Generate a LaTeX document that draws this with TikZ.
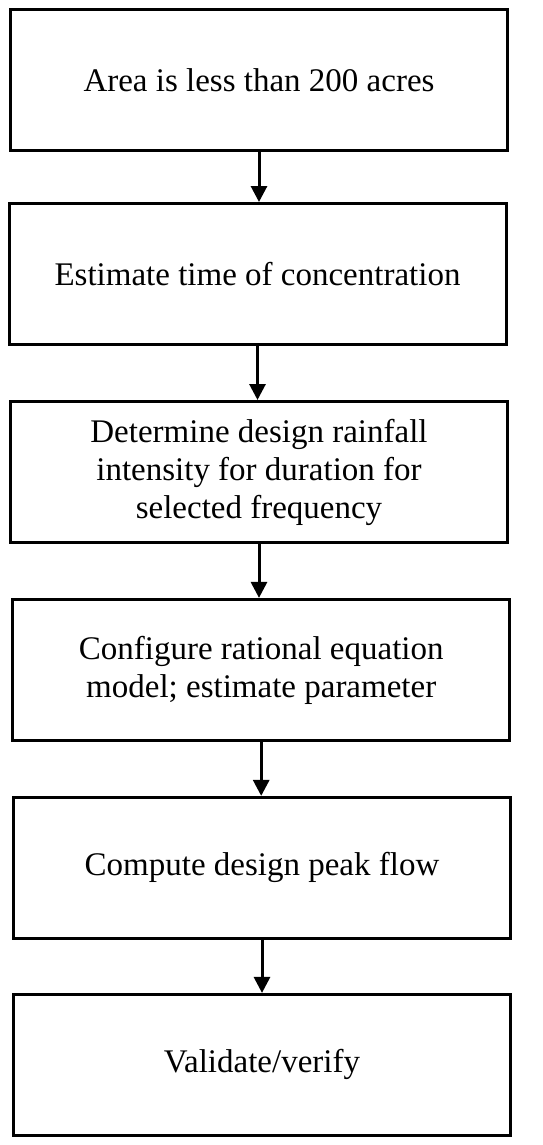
\documentclass[tikz,border=0pt]{standalone}
\usepackage{fontspec}
\setmainfont{Liberation Serif}
\usetikzlibrary{arrows.meta}
\usetikzlibrary{positioning}
\tikzset{
    % Filled triangular head, as in the flow chart
    >={Triangle[length=16pt, width=16pt]},
%
    % One step of the procedure
    step box/.style={
        draw, line width=3pt, align=center, inner sep=0pt,
        minimum width=497pt, minimum height=141pt,
        font=\fontsize{33}{38}\selectfont},
%
    % The connector between two steps
    flow/.style={->, line width=3pt}}

\begin{document}
\begin{tikzpicture}[x=1pt, y=1pt]

\useasboundingbox (0,0) rectangle (542,-1145);

\node [step box] (area) at (259,-80.3) {Area is less than 200 acres};
\node [step box] (tc) at (257.5,-274) {Estimate time of concentration};
\node [step box] (rain) at (259,-472)
    {Determine design rainfall\\intensity for duration for\\selected frequency};
\node [step box] (model) at (261.2,-669.9)
    {Configure rational equation\\model; estimate parameter};
\node [step box] (peak) at (262,-867.9) {Compute design peak flow};
\node [step box] (check) at (262,-1064.9) {Validate/verify};

\draw [flow] (area.south) -- (area.south |- tc.north);
\draw [flow] (tc.south) -- (tc.south |- rain.north);
\draw [flow] (rain.south) -- (rain.south |- model.north);
\draw [flow] (model.south) -- (model.south |- peak.north);
\draw [flow] (peak.south) -- (peak.south |- check.north);

\end{tikzpicture}
\end{document}
